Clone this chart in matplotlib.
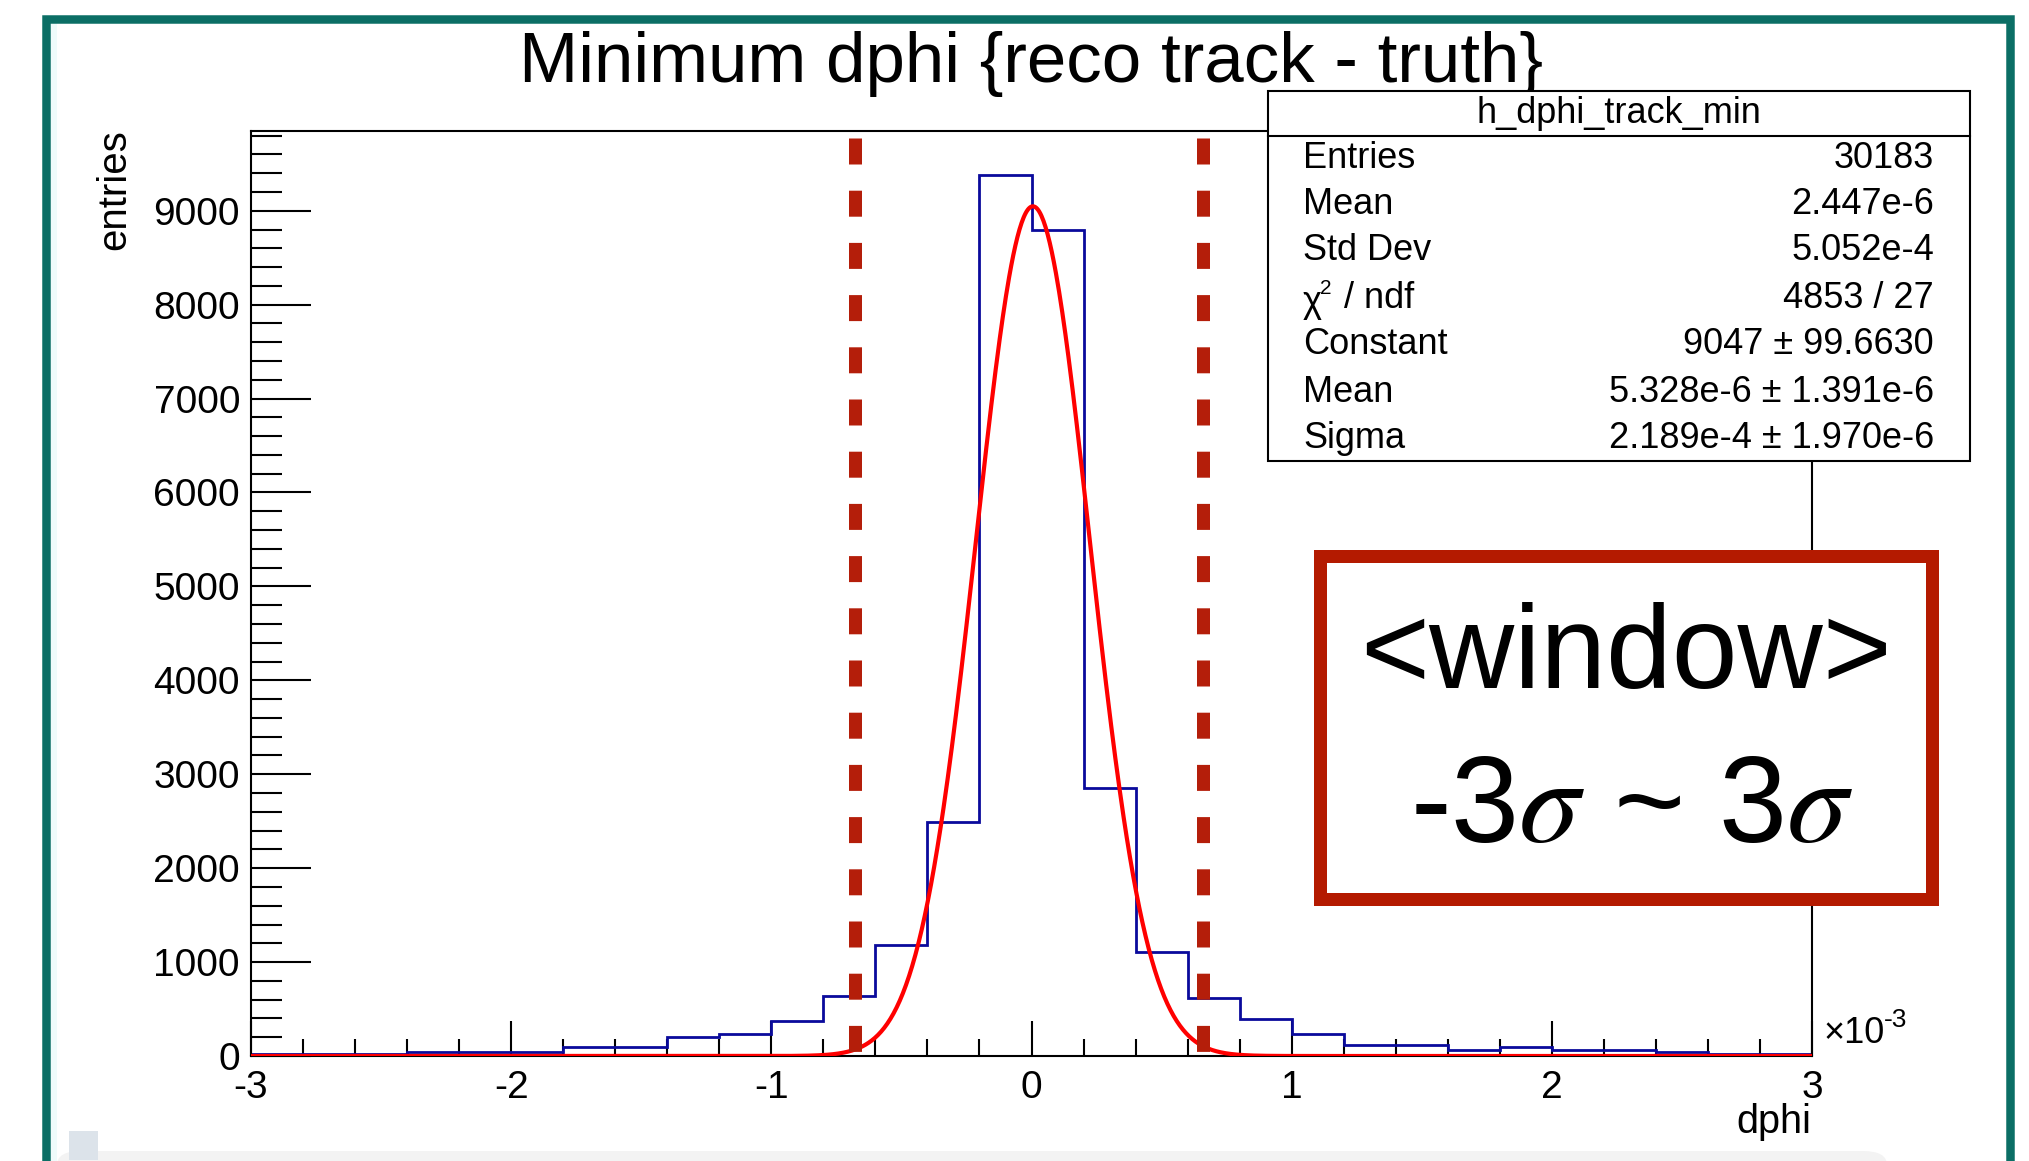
import matplotlib
matplotlib.use("Agg")
import matplotlib.pyplot as plt
from matplotlib.patches import Rectangle, FancyBboxPatch
from matplotlib.ticker import MultipleLocator
import numpy as np

plt.rcParams['font.family'] = ['Liberation Sans', 'DejaVu Sans']
plt.rcParams['mathtext.fontset'] = 'stix'
plt.rcParams['axes.unicode_minus'] = False
plt.rcParams['lines.scale_dashes'] = False

# dphi histogram, x in units of 1e-3 rad, 30 bins of 0.2
x_lo, x_hi, n_bins = -3.0, 3.0, 30
counts = [18, 18, 18, 43, 43, 43, 92, 92, 202, 234,
          369, 638, 1180, 2493, 9380, 8790, 2851, 1105, 614, 390,
          234, 117, 117, 67, 92, 67, 67, 39, 18, 18]

# gaussian fit result (mean and sigma in units of 1e-3)
fit_const = 9047
fit_mean = 5.328e-3
fit_sigma = 0.2189

# hand-placed +-3 sigma window markers
window_lines = [-0.678, 0.659]

stat_title = "h_dphi_track_min"
stat_labels = ["Entries", "Mean", "Std Dev", None, "Constant", "Mean", "Sigma"]
stat_values = ["30183", "2.447e-6", "5.052e-4", "4853 / 27",
               "9047 ± 99.6630", "5.328e-6 ± 1.391e-6", "2.189e-4 ± 1.970e-6"]

W, H = 2029, 1161
fig = plt.figure(figsize=(W / 100, H / 100), dpi=100)


def fx(px):
    return px / W


def fy(py):
    return 1 - py / H


def pt(px):
    return px * 0.72


# slide frame and bits of the window around it
fig.add_artist(Rectangle((fx(50), 0), fx(7), (1161 - 23) / H,
                         transform=fig.transFigure, fc='#effbfb', ec='none', zorder=0))
fig.add_artist(Rectangle((fx(46), fy(1200)), fx(2009.5 - 46), (1200 - 18.5) / H,
                         transform=fig.transFigure, fc='none', ec='#0b6e65',
                         lw=pt(8.5), zorder=5, clip_on=False))
fig.add_artist(FancyBboxPatch((fx(57), fy(1185)), fx(1887 - 57), 34 / H,
                              boxstyle="round,pad=0,rounding_size=0.012",
                              transform=fig.transFigure, fc='#f3f3f3', ec='none', zorder=4))
fig.add_artist(Rectangle((fx(69), fy(1160)), fx(29), 29 / H,
                         transform=fig.transFigure, fc='#dce3ea', ec='none', zorder=4))

ax = fig.add_axes([fx(251), fy(1056), fx(1812 - 251), (1056 - 131) / H])

edges = np.linspace(x_lo, x_hi, n_bins + 1)
ax.stairs(counts, edges, color='#0a0a9c', lw=2.0, zorder=2)

xf = np.linspace(x_lo, x_hi, 1500)
yf = fit_const * np.exp(-0.5 * ((xf - fit_mean) / fit_sigma) ** 2)
ax.plot(xf, yf, color='#ff0000', lw=3.0, zorder=3)

for xw in window_lines:
    ax.plot([xw, xw], [(1056 - 138) / 925, (1056 - 1052) / 925],
            transform=ax.get_xaxis_transform(), color='#b41e0a', lw=pt(13),
            linestyle=(0, (pt(26), pt(26.2))), solid_capstyle='butt',
            dash_capstyle='butt', zorder=4)

ax.set_xlim(x_lo, x_hi)
ax.set_ylim(0, 1.05 * max(counts))
ax.set_xticks(np.arange(-3, 4, 1))
ax.xaxis.set_minor_locator(MultipleLocator(0.2))
ax.yaxis.set_major_locator(MultipleLocator(1000))
ax.yaxis.set_minor_locator(MultipleLocator(200))

for s in ax.spines.values():
    s.set_linewidth(1.5)
ax.tick_params(axis='y', which='major', direction='in', length=pt(60), width=1.5,
               labelsize=28, pad=pt(11))
ax.tick_params(axis='y', which='minor', direction='in', length=pt(31), width=1.5)
ax.tick_params(axis='x', which='major', direction='in', length=pt(35), width=1.5,
               labelsize=28, pad=pt(14))
ax.tick_params(axis='x', which='minor', direction='in', length=pt(17), width=1.5)

fig.text(fx(1031), fy(82), "Minimum dphi {reco track - truth}", fontsize=51,
         ha='center', va='baseline')
fig.text(fx(114), fy(129), "entries", fontsize=29, rotation=90,
         ha='center', va='top')
fig.text(fx(1811), fy(1133), "dphi", fontsize=28.5, ha='right', va='baseline')
fig.text(fx(1823), fy(1043), "×10", fontsize=26, ha='left', va='baseline')
fig.text(fx(1884), fy(1027), "-3", fontsize=19, ha='left', va='baseline')

# statistics box
sb_l, sb_r, sb_t, sb_b = 1268, 1970, 91, 461
fig.add_artist(Rectangle((fx(sb_l), fy(sb_b)), fx(sb_r - sb_l), (sb_b - sb_t) / H,
                         transform=fig.transFigure, fc='white', ec='black',
                         lw=1.5, zorder=6))
fig.add_artist(plt.Line2D([fx(sb_l), fx(sb_r)], [fy(136), fy(136)],
                          transform=fig.transFigure, color='black', lw=1.5, zorder=7))
fig.text(fx((sb_l + sb_r) / 2), fy(123), stat_title, fontsize=26,
         ha='center', va='baseline', zorder=8)
row_base = [168, 214, 260, 308, 354, 402, 448]
for lab, val, yb in zip(stat_labels, stat_values, row_base):
    if lab is None:
        fig.text(fx(1303), fy(yb + 4), "χ", fontsize=26, ha='left', va='baseline', zorder=8)
        fig.text(fx(1320), fy(yb - 14), "2", fontsize=15, ha='left', va='baseline', zorder=8)
        fig.text(fx(1344), fy(yb), "/ ndf", fontsize=26, ha='left', va='baseline', zorder=8)
    else:
        fig.text(fx(1303), fy(yb), lab, fontsize=26, ha='left', va='baseline', zorder=8)
    fig.text(fx(1934), fy(yb), val, fontsize=26, ha='right', va='baseline', zorder=8)

# window annotation box
fig.add_artist(Rectangle((fx(1320), fy(899)), fx(1931.5 - 1320), (899 - 555.5) / H,
                         transform=fig.transFigure, fc='white', ec='#b41a00',
                         lw=pt(13), zorder=6))
fig.text(fx(1626), fy(688), "<window>", fontsize=85, ha='center', va='baseline', zorder=8)
fig.text(fx(1632), fy(842), r"-3$\sigma$ ~ 3$\sigma$", fontsize=88,
         ha='center', va='baseline', zorder=8)

fig.savefig("out.png", dpi=100, facecolor='white')
